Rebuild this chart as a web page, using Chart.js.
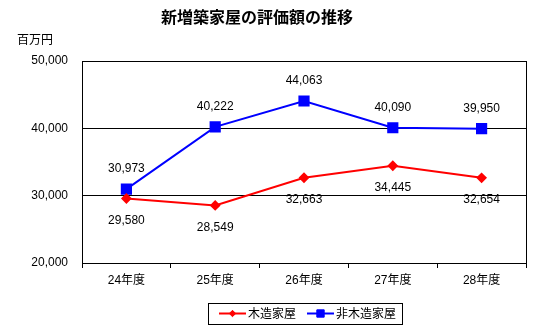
<!DOCTYPE html>
<html lang="ja">
<head>
<meta charset="utf-8">
<script src="https://cdn.jsdelivr.net/npm/chart.js@4/dist/chart.umd.min.js"></script>
<style>
  html, body { margin: 0; padding: 0; background: #fff; }
  canvas { display: block; }
</style>
</head>
<body>
<canvas id="chart" width="554" height="331"></canvas>
<script>
const nendo = ["24年度", "25年度", "26年度", "27年度", "28年度"],
  mokuzo = [29580, 28549, 32663, 34445, 32654],
  hiMokuzo = [30973, 40222, 44063, 40090, 39950],
  yTicks = [20000, 30000, 40000, 50000],
  titolo = "新増築家屋の評価額の推移",
  unita = "百万円",
  font = "'Liberation Sans', 'Noto Sans CJK JP', sans-serif";

const fmt = (v) => String(v).replace(/\B(?=(\d{3})+(?!\d))/g, ",");

// title, unit, border, value labels and legend box
const decor = {
  id: "decor",
  afterDraw(chart) {
    const ctx = chart.ctx, a = chart.chartArea;
    ctx.save();
    ctx.fillStyle = "#000";
    ctx.textAlign = "center";
    ctx.textBaseline = "middle";
    ctx.font = "bold 16px " + font;
    ctx.fillText(titolo, 257, 19);
    ctx.font = "12px " + font;
    ctx.textAlign = "left";
    ctx.fillText(unita, 17, 41);

    ctx.strokeStyle = "#000";
    ctx.lineWidth = 1;
    ctx.strokeRect(Math.round(a.left) + 0.5, Math.round(a.top) + 0.5,
      Math.round(a.right - a.left), Math.round(a.bottom - a.top));

    // legend
    const lx = 208, ly = 303, lw = 194, lh = 21, cy = ly + lh / 2;
    ctx.strokeRect(lx + 0.5, ly + 0.5, lw, lh);
    let x = lx + 11;
    chart.data.datasets.forEach((ds) => {
      ctx.strokeStyle = ds.borderColor;
      ctx.lineWidth = 2;
      ctx.beginPath();
      ctx.moveTo(x, cy);
      ctx.lineTo(x + 27, cy);
      ctx.stroke();
      ctx.fillStyle = ds.pointBackgroundColor;
      ctx.strokeStyle = ds.pointBorderColor;
      ctx.lineWidth = 1;
      Chart.helpers.drawPoint(ctx, { pointStyle: ds.pointStyle, rotation: 0, borderWidth: 1, radius: ds.pointRadius * 0.8 }, x + 13.5, cy);
      ctx.fillStyle = "#000";
      ctx.font = "12px " + font;
      ctx.textAlign = "left";
      ctx.fillText(ds.label, x + 29, cy + 1);
      x += 29 + ctx.measureText(ds.label).width + 11;
    });
    ctx.restore();
  },
  afterDatasetsDraw(chart) {
    const ctx = chart.ctx;
    ctx.save();
    ctx.font = "12px " + font;
    ctx.fillStyle = "#000";
    ctx.textAlign = "center";
    ctx.textBaseline = "middle";
    chart.data.datasets.forEach((ds, i) => {
      chart.getDatasetMeta(i).data.forEach((p, j) => {
        ctx.fillText(fmt(ds.data[j]), p.x, p.y + ds.labelOffset);
      });
    });
    ctx.restore();
  },
};

new Chart(document.getElementById("chart"), {
  type: "line",
  data: {
    labels: nendo,
    datasets: [
      {
        label: "木造家屋",
        data: mokuzo,
        borderColor: "#ff0000",
        backgroundColor: "#ff0000",
        pointBackgroundColor: "#ff0000",
        pointBorderColor: "#ff0000",
        borderWidth: 2,
        pointStyle: "rectRot",
        pointRadius: 4,
        tension: 0,
        labelOffset: 22,
      },
      {
        label: "非木造家屋",
        data: hiMokuzo,
        borderColor: "#0000ff",
        backgroundColor: "#0000ff",
        pointBackgroundColor: "#0000ff",
        pointBorderColor: "#0000ff",
        borderWidth: 2,
        pointStyle: "rect",
        pointRadius: 6.5,
        tension: 0,
        labelOffset: -20,
      },
    ],
  },
  options: {
    responsive: false,
    animation: false,
    devicePixelRatio: 1,
    layout: { padding: { top: 61, right: 28, left: 0, bottom: 38 } },
    plugins: { legend: { display: false }, title: { display: false }, tooltip: { enabled: false } },
    scales: {
      x: {
        offset: true,
        grid: { offset: true, drawOnChartArea: false, drawTicks: true, tickLength: 5, color: "#000" },
        border: { display: false },
        ticks: { color: "#000", font: { family: font, size: 12 }, padding: 5, maxRotation: 0 },
        afterFit(s) { s.height = 30; },
      },
      y: {
        min: yTicks[0],
        max: yTicks[yTicks.length - 1],
        afterBuildTicks(s) { s.ticks = yTicks.map((v) => ({ value: v })); },
        grid: { color: "#000", drawTicks: false, lineWidth: 1 },
        border: { display: false },
        ticks: { color: "#000", font: { family: font, size: 12 }, padding: 14, callback: (v) => fmt(v) },
        afterFit(s) { s.width = 82; },
      },
    },
  },
  plugins: [decor],
});
</script>
</body>
</html>
